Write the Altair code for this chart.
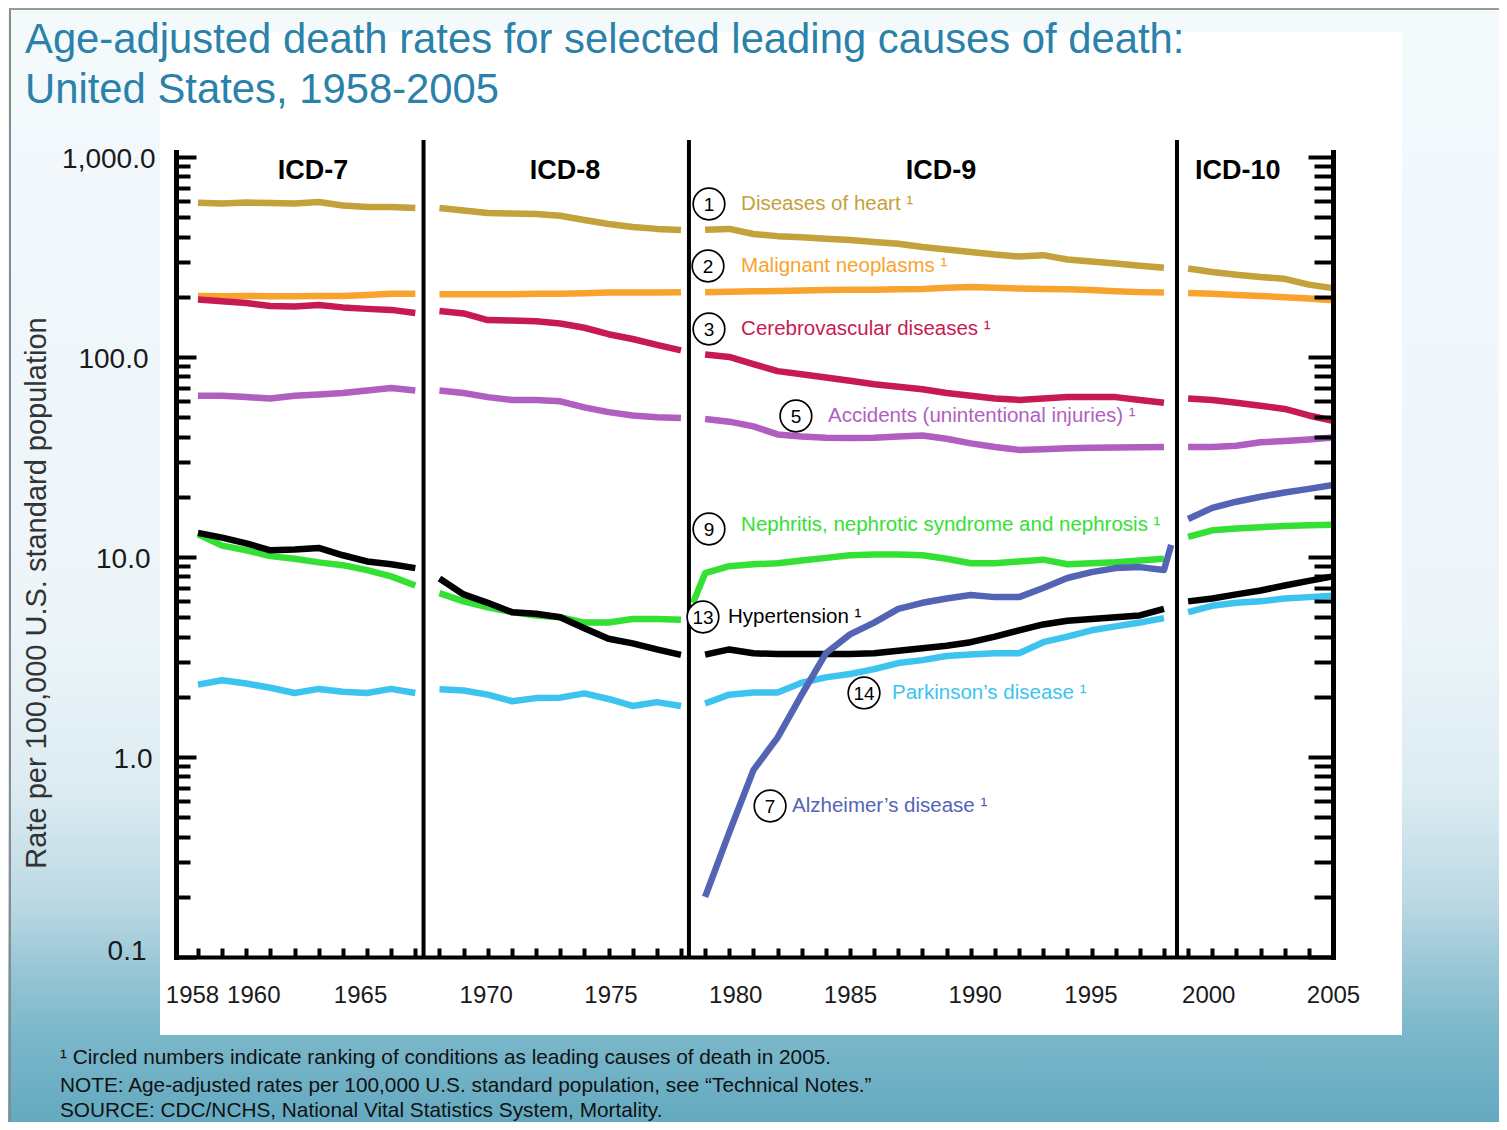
import altair as alt
import pandas as pd

W, H = 1157, 805

# ---------------- data ----------------
years_icd7 = list(range(1958, 1968))
years_icd8 = list(range(1968, 1979))
years_icd9 = list(range(1979, 1999))
years_icd10 = list(range(1999, 2006))
years_nephritis_icd9 = [1978.5] + years_icd9
years_alzheimer_icd9 = years_icd9 + [1998.3]

heart_icd7 = [590, 586, 592, 588, 586, 596, 572, 562, 563, 556]
heart_icd8 = [556, 540, 525, 521, 519, 508, 484, 462, 447, 437, 432]
heart_icd9 = [433, 437, 412, 402, 397, 390, 384, 376, 368, 355, 345, 335, 325, 318, 323, 307, 300, 293, 286, 279]
heart_icd10 = [277, 266, 258, 251, 246, 230, 221]

cancer_icd7 = [202, 201, 202, 201, 201, 202, 202, 204, 207, 207]
cancer_icd8 = [206, 206, 206, 206, 207, 207, 208, 210, 210, 210, 211]
cancer_icd9 = [211, 212, 213, 214, 215, 216, 217, 217, 218, 219, 222, 224, 222, 220, 219, 218, 216, 213, 211, 210]
cancer_icd10 = [209, 207, 204, 202, 199, 196, 192]

stroke_icd7 = [194, 190, 186, 180, 179, 182, 177, 174, 172, 166]
stroke_icd8 = [170, 165, 153, 152, 151, 147, 140, 130, 123, 115, 108]
stroke_icd9 = [103, 100, 92, 85, 82, 79, 76, 73, 71, 69, 66, 64, 62, 61, 62, 63, 63, 63, 61, 59]
stroke_icd10 = [62, 61, 59, 57, 55, 51, 48]

accidents_icd7 = [64, 64, 63, 62, 64, 65, 66, 68, 70, 68]
accidents_icd8 = [68, 66, 63, 61, 61, 60, 56, 53, 51, 50, 49.5]
accidents_icd9 = [49, 47.5, 45, 41, 40, 39.5, 39.3, 39.5, 40, 40.5, 39, 37, 35.5, 34.3, 34.6, 35, 35.2, 35.3, 35.4, 35.5]
accidents_icd10 = [35.5, 35.5, 36, 37.5, 38, 38.7, 39.6]

nephritis_icd7 = [13.0, 11.4, 10.8, 10.1, 9.8, 9.4, 9.1, 8.6, 8.0, 7.2]
nephritis_icd8 = [6.6, 6.0, 5.6, 5.3, 5.1, 5.0, 4.7, 4.7, 4.9, 4.9, 4.85]
nephritis_icd9 = [5.9, 8.3, 9.0, 9.2, 9.3, 9.6, 9.9, 10.2, 10.3, 10.3, 10.2, 9.8, 9.3, 9.3, 9.5, 9.7, 9.2, 9.3, 9.4, 9.6, 9.8]
nephritis_icd10 = [12.6, 13.6, 13.9, 14.1, 14.3, 14.4, 14.5]

hypertension_icd7 = [13.2, 12.5, 11.7, 10.8, 10.9, 11.1, 10.2, 9.5, 9.2, 8.8]
hypertension_icd8 = [7.8, 6.5, 5.9, 5.3, 5.2, 5.0, 4.4, 3.9, 3.7, 3.45, 3.24]
hypertension_icd9 = [3.25, 3.45, 3.3, 3.27, 3.27, 3.27, 3.27, 3.3, 3.4, 3.5, 3.6, 3.75, 4.0, 4.3, 4.6, 4.8, 4.9, 5.0, 5.1, 5.5]
hypertension_icd10 = [6.0, 6.2, 6.5, 6.8, 7.2, 7.6, 8.0]

parkinson_icd7 = [2.3, 2.42, 2.33, 2.22, 2.09, 2.19, 2.12, 2.09, 2.19, 2.09]
parkinson_icd8 = [2.18, 2.15, 2.05, 1.9, 1.97, 1.98, 2.08, 1.95, 1.8, 1.88, 1.8]
parkinson_icd9 = [1.85, 2.05, 2.1, 2.1, 2.35, 2.5, 2.6, 2.75, 2.95, 3.05, 3.2, 3.25, 3.3, 3.3, 3.75, 4.0, 4.3, 4.5, 4.7, 4.95]
parkinson_icd10 = [5.3, 5.7, 5.9, 6.0, 6.2, 6.3, 6.4]

alzheimer_icd9 = [0.2, 0.42, 0.86, 1.25, 2.05, 3.3, 4.1, 4.7, 5.5, 5.9, 6.2, 6.45, 6.3, 6.3, 7.0, 7.85, 8.4, 8.8, 8.9, 8.6, 11.5]
alzheimer_icd10 = [15.5, 17.6, 18.9, 20.0, 21.0, 21.9, 22.9]

series_keys = ["heart", "cancer", "stroke", "accidents", "parkinson", "nephritis", "hypertension", "alzheimer"]
series_colors = ["#C3A13B", "#F8A32E", "#C81A52", "#B05FC0", "#3DC3EF", "#35E035", "#000000", "#5464B4"]

segments = {
    "heart": [(years_icd7, heart_icd7), (years_icd8, heart_icd8), (years_icd9, heart_icd9), (years_icd10, heart_icd10)],
    "cancer": [(years_icd7, cancer_icd7), (years_icd8, cancer_icd8), (years_icd9, cancer_icd9), (years_icd10, cancer_icd10)],
    "stroke": [(years_icd7, stroke_icd7), (years_icd8, stroke_icd8), (years_icd9, stroke_icd9), (years_icd10, stroke_icd10)],
    "accidents": [(years_icd7, accidents_icd7), (years_icd8, accidents_icd8), (years_icd9, accidents_icd9), (years_icd10, accidents_icd10)],
    "parkinson": [(years_icd7, parkinson_icd7), (years_icd8, parkinson_icd8), (years_icd9, parkinson_icd9), (years_icd10, parkinson_icd10)],
    "nephritis": [(years_icd7, nephritis_icd7), (years_icd8, nephritis_icd8), (years_nephritis_icd9, nephritis_icd9), (years_icd10, nephritis_icd10)],
    "hypertension": [(years_icd7, hypertension_icd7), (years_icd8, hypertension_icd8), (years_icd9, hypertension_icd9), (years_icd10, hypertension_icd10)],
    "alzheimer": [(years_alzheimer_icd9, alzheimer_icd9), (years_icd10, alzheimer_icd10)],
}

icd_labels = ["ICD-7", "ICD-8", "ICD-9", "ICD-10"]
icd_label_years = [1962.76, 1973.2, 1988.77, 2001.06]
icd_label_rate = 851
icd_break_years = [1967.34, 1978.33, 1998.54]

ann_rank = ["1", "2", "3", "5", "9", "13", "14", "7"]
ann_series = ["heart", "cancer", "stroke", "accidents", "nephritis", "hypertension", "parkinson", "alzheimer"]
ann_text = ["Diseases of heart \u00b9", "Malignant neoplasms \u00b9", "Cerebrovascular diseases \u00b9",
            "Accidents (unintentional injuries) \u00b9", "Nephritis, nephrotic syndrome and nephrosis \u00b9",
            "Hypertension \u00b9", "Parkinson\u2019s disease \u00b9", "Alzheimer\u2019s disease \u00b9"]
ann_circle_year = [1979.16, 1979.12, 1979.16, 1982.76, 1979.16, 1978.91, 1985.58, 1981.69]
ann_circle_rate = [582, 285, 138, 50.7, 13.8, 5.01, 2.09, 0.569]
ann_text_year = [1980.49, 1980.49, 1980.49, 1984.09, 1980.49, 1979.95, 1986.74, 1982.6]
ann_text_rate = [582, 285, 138, 50.7, 14.45, 5.01, 2.09, 0.569]

x_label_years = [1958, 1960, 1965, 1970, 1975, 1980, 1985, 1990, 1995, 2000, 2005]
x_tick_years = list(range(1958, 2005))
y_label_values = [0.1, 1, 10, 100, 1000]
y_tick_values = [round(k * 10 ** e, 6) for e in range(-1, 3) for k in range(1, 10)] + [1000]

title_lines = ["Age-adjusted death rates for selected leading causes of death:", "United States, 1958-2005"]
y_title = "Rate per 100,000 U.S. standard population"
footnotes = ["\u00b9 Circled numbers indicate ranking of conditions as leading causes of death in 2005.",
             "NOTE: Age-adjusted rates per 100,000 U.S. standard population, see \u201cTechnical Notes.\u201d",
             "SOURCE: CDC/NCHS, National Vital Statistics System, Mortality."]

# ---------------- tables ----------------
rows = []
for key in series_keys:
    for i, (yrs, vals) in enumerate(segments[key]):
        for yr, v in zip(yrs, vals):
            rows.append({"series": key, "seg": f"{key}-{i}", "year": yr, "rate": v})
df = pd.DataFrame(rows)

color_map = dict(zip(series_keys, series_colors))
df_ann = pd.DataFrame({
    "rank": ann_rank, "label": ann_text,
    "color": [color_map[s] for s in ann_series],
    "cyear": ann_circle_year, "crate": ann_circle_rate,
    "tyear": ann_text_year, "trate": ann_text_rate,
})
df_icd = pd.DataFrame({"label": icd_labels, "year": icd_label_years, "rate": [icd_label_rate] * 4})
df_break = pd.DataFrame({"year": icd_break_years})

FONT = "Liberation Sans"
xs = alt.Scale(domain=[1957.09, 2005], nice=False, zero=False)
ys = alt.Scale(type="log", domain=[0.1, 1059], nice=False)
is_major = "abs(log(datum.value) / LN10 - round(log(datum.value) / LN10)) < 0.000001"

one = alt.Data(values=[{"k": 1}])

# ---------------- background ----------------
grad = alt.Gradient(
    gradient="linear", x1=0, x2=0, y1=0, y2=1,
    stops=[alt.GradientStop(offset=0, color="#F4F9FC"),
           alt.GradientStop(offset=0.55, color="#EDF5F9"),
           alt.GradientStop(offset=0.7, color="#DCECF2"),
           alt.GradientStop(offset=0.8, color="#BCD9E4"),
           alt.GradientStop(offset=0.86, color="#9AC7D6"),
           alt.GradientStop(offset=0.92, color="#7BB7CA"),
           alt.GradientStop(offset=1, color="#64AAC1")])
bg = alt.Chart(one).mark_rect(fill=grad).encode(
    x=alt.value(-168), x2=alt.value(W + 166), y=alt.value(-144), y2=alt.value(H + 165))
frame_left = alt.Chart(one).mark_rule(color="#8a8a8a", strokeWidth=2).encode(
    x=alt.value(-166), y=alt.value(-144), y2=alt.value(H + 165))
frame_top = alt.Chart(one).mark_rule(color="#9a9a9a", strokeWidth=2).encode(
    x=alt.value(-166), x2=alt.value(W + 166), y=alt.value(-143))
panel = alt.Chart(one).mark_rect(fill="white").encode(
    x=alt.value(-16), x2=alt.value(W + 69), y=alt.value(-120), y2=alt.value(H + 78))

# ---------------- lines with main axes ----------------
x_offsets = {1958: -6, 1960: 7, 1965: -7, 1970: -2, 1975: 2, 1980: 6, 1990: 4, 1995: -1, 2000: -4}
x_axis_main = alt.Axis(
    orient="bottom", values=x_label_years, format="d", ticks=False, domain=True,
    domainColor="black", domainWidth=4, domainCap="square", grid=False, title=None,
    labelFont=FONT, labelFontSize=24, labelColor="#1a1a1a", labelPadding=26,
    labelOverlap=False, labelFlush=False, zindex=1,
    labelOffset={"condition": [{"test": f"datum.value == {k}", "value": v} for k, v in x_offsets.items()],
                 "value": 0})
y_axis_main = alt.Axis(
    orient="left", values=y_label_values, format=",.1f", ticks=False, domain=True,
    domainColor="black", domainWidth=5, domainCap="square", grid=False, title=None,
    labelFont=FONT, labelFontSize=28, labelColor="#1a1a1a",
    labelPadding={"condition": [{"test": "datum.value > 500", "value": 21},
                                {"test": "datum.value > 50", "value": 28},
                                {"test": "datum.value > 5", "value": 26},
                                {"test": "datum.value > 0.5", "value": 24}], "value": 30},
    labelOverlap=False, zindex=1,
    labelOffset={"condition": {"test": "datum.value < 0.5", "value": -6}, "value": 3})

lines = alt.Chart(df).mark_line(strokeWidth=6.5, strokeCap="butt", strokeJoin="round").encode(
    x=alt.X("year:Q", scale=xs, axis=x_axis_main),
    y=alt.Y("rate:Q", scale=ys, axis=y_axis_main),
    color=alt.Color("series:N", scale=alt.Scale(domain=series_keys, range=series_colors), legend=None),
    detail="seg:N",
    order="year:Q",
)

# inner ticks on left and bottom
inner_ticks = alt.Chart(df).mark_point(opacity=0).encode(
    x=alt.X("year:Q", scale=xs, axis=alt.Axis(
        orient="top", offset=-H, values=x_tick_years, labels=False, domain=False,
        ticks=True, tickSize=9, tickWidth=4, tickColor="black", grid=False, title=None, zindex=1)),
    y=alt.Y("rate:Q", scale=ys, axis=alt.Axis(
        orient="right", offset=-W, values=y_tick_values, labels=False, domain=False,
        ticks=True, tickColor="black", tickWidth=4, grid=False, title=None, zindex=1,
        tickSize={"condition": {"test": is_major, "value": 20}, "value": 14})),
)
# right axis with inward ticks
right_axis = alt.Chart(df).mark_point(opacity=0).encode(
    x=alt.X("year:Q", scale=xs, axis=None),
    y=alt.Y("rate:Q", scale=ys, axis=alt.Axis(
        orient="left", offset=-W, values=y_tick_values, labels=False, domain=True,
        domainColor="black", domainWidth=5, domainCap="square",
        ticks=True, tickColor="black", tickWidth=4, grid=False, title=None, zindex=1,
        tickSize={"condition": {"test": is_major, "value": 25}, "value": 19})),
)

breaks = alt.Chart(df_break).mark_rule(color="black", strokeWidth=4).encode(
    x=alt.X("year:Q", scale=xs, axis=None), y=alt.value(-12), y2=alt.value(H))

icd = alt.Chart(df_icd).mark_text(font=FONT, fontSize=27, fontWeight="bold", color="black",
                                  align="center", baseline="middle").encode(
    x=alt.X("year:Q", scale=xs, axis=None), y=alt.Y("rate:Q", scale=ys, axis=None), text="label:N")

circles = alt.Chart(df_ann).mark_circle(size=1000, color="white", stroke="black",
                                        strokeWidth=1.7, opacity=1).encode(
    x=alt.X("cyear:Q", scale=xs, axis=None), y=alt.Y("crate:Q", scale=ys, axis=None))
ranks = alt.Chart(df_ann).mark_text(font=FONT, fontSize=19, color="black",
                                    align="center", baseline="middle", dy=1).encode(
    x=alt.X("cyear:Q", scale=xs, axis=None), y=alt.Y("crate:Q", scale=ys, axis=None), text="rank:N")
labels = alt.Chart(df_ann).mark_text(font=FONT, fontSize=20.5, align="left", baseline="middle").encode(
    x=alt.X("tyear:Q", scale=xs, axis=None), y=alt.Y("trate:Q", scale=ys, axis=None),
    text="label:N", color=alt.Color("color:N", scale=None))


def pix_text(txt, x, y, size, color, angle=0, align="left", baseline="alphabetic"):
    return alt.Chart(alt.Data(values=[{"t": txt}])).mark_text(
        font=FONT, fontSize=size, color=color, angle=angle, align=align, baseline=baseline).encode(
        x=alt.value(x), y=alt.value(y), text="t:N")


title1 = pix_text(title_lines[0], -151, -99, 41.8, "#2A81A9")
title2 = pix_text(title_lines[1], -151, -49, 41.8, "#2A81A9")
ytitle = pix_text(y_title, -139, 441, 29, "#333333", angle=270, align="center", baseline="middle")
foot1 = pix_text(footnotes[0], -116, 906, 20.8, "#111111", baseline="middle")
foot2 = pix_text(footnotes[1], -116, 934, 20.8, "#111111", baseline="middle")
foot3 = pix_text(footnotes[2], -116, 959, 20.8, "#111111", baseline="middle")

chart = alt.layer(
    bg, frame_left, frame_top, panel,
    lines, inner_ticks, right_axis, breaks, icd, circles, ranks, labels,
    title1, title2, ytitle, foot1, foot2, foot3,
).resolve_axis(x="independent", y="independent").properties(
    width=W, height=H, autosize=alt.AutoSizeParams(type="none"),
    padding={"left": 168, "top": 144, "right": 166, "bottom": 165},
).configure_view(stroke=None)

chart.save("out.html", embed_options={"renderer": "svg", "actions": False})
